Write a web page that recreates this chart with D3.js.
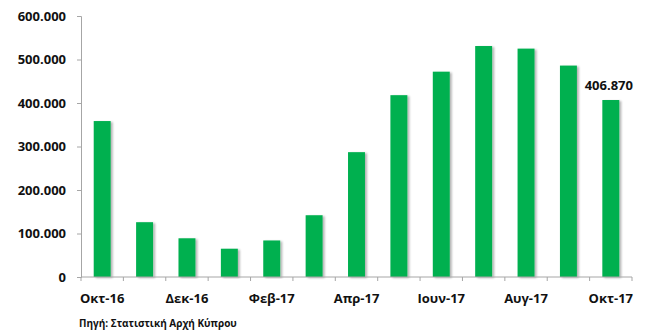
<!DOCTYPE html>
<html><head><meta charset="utf-8">
<script src="https://cdn.jsdelivr.net/npm/d3@7"></script>
<style>
body{margin:0;background:#fff;}
text{font-family:"Open Sans",sans-serif;font-weight:bold;fill:#111;}
</style></head>
<body><svg id="c" width="646" height="334"></svg>
<script>
const categories = ["Οκτ-16","Νοε-16","Δεκ-16","Ιαν-17","Φεβ-17","Μαρ-17","Απρ-17","Μαϊ-17","Ιουν-17","Ιουλ-17","Αυγ-17","Σεπ-17","Οκτ-17"];
const values = [358500,126000,89000,65000,84000,142000,287000,418000,472000,531000,525000,486000,406870];
const yTicks = [0,100000,200000,300000,400000,500000,600000];
const shownLabels = ["Οκτ-16","Δεκ-16","Φεβ-17","Απρ-17","Ιουν-17","Αυγ-17","Οκτ-17"];
const sourceText = "Πηγή: Στατιστική Αρχή Κύπρου";

const svg = d3.select("#c");
const m = {l:81, r:14, t:16, b:57};
const W = 646, H = 334;
const x = d3.scaleBand().domain(categories).range([m.l, W-m.r]).paddingInner(0.6).paddingOuter(0.3);
const y = d3.scaleLinear().domain([0,600000]).range([H-m.b, m.t]);
const fmt = v => v===0 ? "0" : d3.format(",")(v).replace(/,/g,".");

const defs = svg.append("defs");
const f = defs.append("filter").attr("id","sh").attr("x","-20%").attr("y","-5%").attr("width","160%").attr("height","110%");
f.append("feGaussianBlur").attr("in","SourceAlpha").attr("stdDeviation",1);
f.append("feOffset").attr("dx",2).attr("dy",1).attr("result","o");
f.append("feComponentTransfer").append("feFuncA").attr("type","linear").attr("slope",0.3);
const mg = f.append("feMerge"); mg.append("feMergeNode"); mg.append("feMergeNode").attr("in","SourceGraphic");

// bars
svg.append("g").selectAll("rect").data(values).join("rect")
  .attr("x",(d,i)=>x(categories[i])).attr("width",x.bandwidth())
  .attr("y",d=>y(d)).attr("height",d=>y(0)-y(d))
  .attr("fill","#00b050").attr("filter","url(#sh)");

// y axis
const ya = svg.append("g").attr("transform",`translate(${m.l},0)`)
  .call(d3.axisLeft(y).tickValues(yTicks).tickFormat(fmt).tickSize(4).tickPadding(11));
ya.select(".domain").attr("stroke","#a6a6a6");
ya.selectAll(".tick line").attr("stroke","#a6a6a6");
ya.selectAll("text").style("font-size","13px").attr("fill","#111");

// x axis
const step = x.step();
const xa = svg.append("g").attr("transform",`translate(0,${y(0)})`);
xa.append("line").attr("x1",m.l).attr("x2",W-m.r).attr("stroke","#a6a6a6");
const bounds = d3.range(categories.length+1).map(i=>m.l + i*(W-m.l-m.r)/categories.length);
xa.selectAll(".tk").data(bounds).join("line").attr("class","tk")
  .attr("x1",d=>d).attr("x2",d=>d).attr("y1",0).attr("y2",4).attr("stroke","#a6a6a6");
xa.selectAll(".lb").data(shownLabels).join("text").attr("class","lb")
  .attr("x",d=>x(d)+x.bandwidth()/2).attr("y",26)
  .attr("text-anchor","middle").style("font-size","13px").text(d=>d);

// data label
const li = values.length-1;
svg.append("text").attr("x",x(categories[li])+x.bandwidth()/2-2).attr("y",y(values[li])-10)
  .attr("text-anchor","middle").style("font-size","13px").text(fmt(values[li]));

// source
svg.append("text").attr("x",79).attr("y",327).style("font-size","10px").text(sourceText);
</script></body></html>
